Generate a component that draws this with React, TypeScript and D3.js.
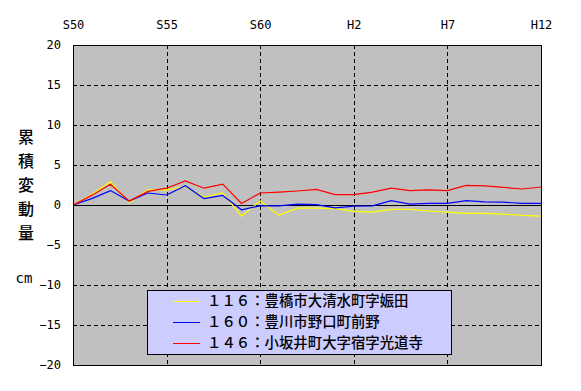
import { useRef, useEffect } from "react";
import * as d3 from "d3";

const years = [
  1975, 1976, 1977, 1978, 1979, 1980, 1981, 1982, 1983, 1984, 1985, 1986, 1987,
  1988, 1989, 1990, 1991, 1992, 1993, 1994, 1995, 1996, 1997, 1998, 1999, 2000,
];

const s116 = [
  0, 1.3, 2.9, 0.3, 1.9, 1.9, 2.3, 1.0, 1.5, -1.4, 0.5, -1.25, -0.4, -0.4,
  -0.45, -0.8, -0.9, -0.55, -0.55, -0.75, -0.9, -1.05, -1.05, -1.15, -1.3, -1.4,
];
const s160 = [
  0, 0.8, 1.8, 0.5, 1.5, 1.25, 2.4, 0.8, 1.2, -0.6, -0.1, -0.1, 0.1, 0.05,
  -0.35, -0.15, -0.1, 0.55, 0.1, 0.2, 0.2, 0.55, 0.4, 0.35, 0.2, 0.2,
];
const s146 = [
  0, 1.2, 2.6, 0.5, 1.7, 2.1, 3.0, 2.1, 2.6, 0.2, 1.5, 1.6, 1.75, 1.95, 1.3,
  1.3, 1.6, 2.1, 1.8, 1.9, 1.8, 2.45, 2.4, 2.2, 2.0, 2.25,
];

const seriesNames = [
  "１１６：豊橋市大清水町字娠田",
  "１６０：豊川市野口町前野",
  "１４６：小坂井町大字宿字光道寺",
];
const seriesColors = ["#ffff00", "#0000ff", "#ff0000"];

const xTickYears = [1975, 1980, 1985, 1990, 1995, 2000];
const xTickLabels = ["S50", "S55", "S60", "H2", "H7", "H12"];
const yTicks = [20, 15, 10, 5, 0, -5, -10, -15, -20];
const yTitle = ["累", "積", "変", "動", "量"];

const W = 581;
const H = 391;
const margin = { top: 45, right: 40, bottom: 26, left: 73 };
const MONO = "'DejaVu Sans Mono', monospace";
const JP = "'Noto Sans CJK JP', sans-serif";

const App = () => {
  const svgRef = useRef(null);

  useEffect(() => {
    const svg = d3.select(svgRef.current);
    svg.selectAll("*").remove();

    const x = d3
      .scaleLinear()
      .domain([1975, 2000])
      .range([margin.left, W - margin.right]);
    const y = d3
      .scaleLinear()
      .domain([-20, 20])
      .range([H - margin.bottom, margin.top]);

    // plot background
    svg
      .append("rect")
      .attr("x", margin.left)
      .attr("y", margin.top)
      .attr("width", x(2000) - margin.left)
      .attr("height", y(-20) - margin.top)
      .attr("fill", "#c0c0c0");

    // dashed grid
    const grid = svg.append("g").attr("shape-rendering", "crispEdges");
    grid
      .selectAll(".vgrid")
      .data(xTickYears.slice(1, -1))
      .join("line")
      .attr("x1", (d) => Math.round(x(d)) + 0.5)
      .attr("x2", (d) => Math.round(x(d)) + 0.5)
      .attr("y1", y(20))
      .attr("y2", y(-20))
      .attr("stroke", "#000")
      .attr("stroke-dasharray", "4,3");
    grid
      .selectAll(".hgrid")
      .data(yTicks.filter((d) => d !== 0 && Math.abs(d) !== 20))
      .join("line")
      .attr("x1", x(1975))
      .attr("x2", x(2000))
      .attr("y1", (d) => Math.round(y(d)) + 0.5)
      .attr("y2", (d) => Math.round(y(d)) + 0.5)
      .attr("stroke", "#000")
      .attr("stroke-dasharray", "4,3");

    // zero line
    svg
      .append("line")
      .attr("x1", x(1975))
      .attr("x2", x(2000))
      .attr("y1", Math.round(y(0)) + 0.5)
      .attr("y2", Math.round(y(0)) + 0.5)
      .attr("stroke", "#000")
      .attr("shape-rendering", "crispEdges");

    // series
    const line = d3
      .line<number>()
      .x((d, i) => x(years[i]))
      .y((d) => y(d));
    [s116, s160, s146].forEach((vals, k) => {
      svg
        .append("path")
        .datum(vals)
        .attr("d", line)
        .attr("fill", "none")
        .attr("stroke", seriesColors[k])
        .attr("stroke-width", 1.2);
    });

    // plot border
    svg
      .append("rect")
      .attr("x", margin.left + 0.5)
      .attr("y", margin.top + 0.5)
      .attr("width", x(2000) - margin.left)
      .attr("height", y(-20) - margin.top)
      .attr("fill", "none")
      .attr("stroke", "#000")
      .attr("shape-rendering", "crispEdges");

    // top axis labels
    const xAxis = d3
      .axisTop(x)
      .tickValues(xTickYears)
      .tickSize(0)
      .tickPadding(0)
      .tickFormat((d, i) => xTickLabels[i]);
    const gx = svg
      .append("g")
      .attr("transform", "translate(0, 25)")
      .call(xAxis);
    gx.select(".domain").remove();
    gx.selectAll("text")
      .attr("dy", "0.35em")
      .attr("font-family", MONO)
      .attr("font-size", 12)
      .attr("fill", "#000");

    // left axis labels
    const yAxis = d3.axisLeft(y).tickValues(yTicks).tickSize(0).tickPadding(0);
    const gy = svg
      .append("g")
      .attr("transform", "translate(61, 0)")
      .call(yAxis);
    gy.select(".domain").remove();
    gy.selectAll("text")
      .attr("font-family", MONO)
      .attr("font-size", 12)
      .attr("fill", "#000");

    // y title
    svg
      .append("g")
      .selectAll("text")
      .data(yTitle)
      .join("text")
      .attr("x", 26)
      .attr("y", (d, i) => 137 + i * 24)
      .attr("dy", "0.35em")
      .attr("text-anchor", "middle")
      .attr("font-family", JP)
      .attr("font-size", 16)
      .attr("font-weight", 500)
      .text((d) => d);
    svg
      .append("text")
      .attr("x", 24)
      .attr("y", 278)
      .attr("dy", "0.35em")
      .attr("text-anchor", "middle")
      .attr("font-family", MONO)
      .attr("font-size", 14)
      .text("cm");

    // legend
    const legendItems = seriesNames.map((name, i) => ({
      name,
      color: seriesColors[i],
      row: i,
    }));
    const lg = svg.append("g");
    lg.append("rect")
      .attr("x", 147.5)
      .attr("y", 290.5)
      .attr("width", 304)
      .attr("height", 64)
      .attr("fill", "#ccccff")
      .attr("stroke", "#000")
      .attr("shape-rendering", "crispEdges");
    const rows = lg
      .selectAll(".row")
      .data(legendItems)
      .join("g")
      .attr("transform", (d) => `translate(0, ${301 + d.row * 21})`);
    rows
      .append("line")
      .attr("x1", 173)
      .attr("x2", 200)
      .attr("y1", 0.5)
      .attr("y2", 0.5)
      .attr("stroke", (d) => d.color)
      .attr("shape-rendering", "crispEdges");
    rows
      .append("text")
      .attr("x", 207)
      .attr("dy", "0.35em")
      .attr("font-family", JP)
      .attr("font-size", 14.4)
      .attr("font-weight", 500)
      .attr("fill", "#000")
      .text((d) => d.name);
  }, []);

  return (
    <svg
      ref={svgRef}
      width={W}
      height={H}
      style={{ position: "absolute", left: 0, top: 0, background: "#fff" }}
    />
  );
};

export default App;
